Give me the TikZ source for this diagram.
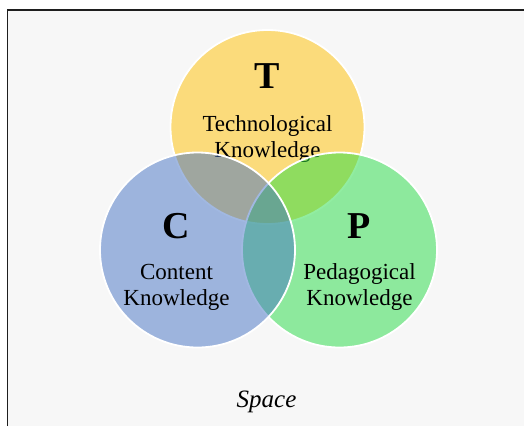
\documentclass[tikz,border=0pt]{standalone}
\usepackage{fontspec}
\setmainfont{Liberation Serif}
\definecolor{paper}{RGB}{247,247,247}
\definecolor{frameline}{RGB}{30,30,30}
\definecolor{techgold}{RGB}{255,192,0}
\definecolor{contblue}{RGB}{68,114,196}
\definecolor{pedgreen}{RGB}{37,221,69}
\tikzset{
  setcircle/.style={fill=#1, fill opacity=0.5, draw=white, draw opacity=1, line width=1.8pt},
  bigletter/.style={anchor=base, font=\fontsize{38}{40}\selectfont\bfseries},
  caption/.style={anchor=base, align=center, font=\fontsize{23}{26}\selectfont},
}
\begin{document}
\begin{tikzpicture}[x=1pt, y=-1pt]
  \useasboundingbox (0,0) rectangle (524,426);
  % panel
  \fill[paper] (7.5,10) rectangle (524,426);
  \draw[frameline, line width=1.4pt] (7.5,426) -- (7.5,10) -- (524,10);

  % technological knowledge (anchored at the baseline of its last line)
  \draw[setcircle=techgold] (267.5,127) circle[radius=97];
  \node[bigletter] (tl) at (267.5,88) {T};
  \node[caption] (tk) at (267.5,157) {Technological\\Knowledge};

  % pedagogical knowledge
  \draw[setcircle=pedgreen] (339.5,250) circle[radius=97.5];
  \node[bigletter] (pl) at (359.5,238) {P};
  \node[caption] (pk) at (359.5,305) {Pedagogical\\Knowledge};

  % content knowledge
  \draw[setcircle=contblue] (197.5,250) circle[radius=97.5];
  \node[bigletter] (cl) at (176.5,238) {C};
  \node[caption] (ck) at (176.5,305) {Content\\Knowledge};

  \node[anchor=base, font=\fontsize{25}{28}\selectfont\itshape] (sp) at (266.5,407) {Space};
\end{tikzpicture}
\end{document}
